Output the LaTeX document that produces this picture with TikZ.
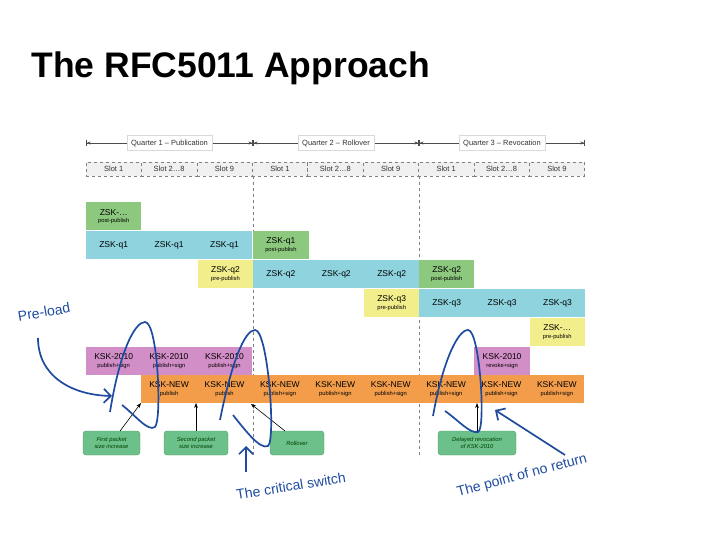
\documentclass[tikz,border=0pt]{standalone}
\usepackage{fontspec}
\setmainfont{Liberation Sans}
\usetikzlibrary{arrows.meta,calc}
\definecolor{ccy}{HTML}{8ED3DE}
\definecolor{cgr}{HTML}{8CC97E}
\definecolor{cye}{HTML}{F3EE8C}
\definecolor{cpu}{HTML}{D28EC6}
\definecolor{cog}{HTML}{F39C4A}
\definecolor{clab}{HTML}{6CC08A}
\definecolor{chand}{HTML}{1E4BA0}
\begin{document}
\begin{tikzpicture}[x=1pt,y=-1pt,
 box/.style={draw=none,minimum height=28pt,inner sep=0pt,align=center,font=\fontsize{8.5}{8.5}\selectfont},
 cy/.style={box,fill=ccy},
 gr/.style={box,fill=cgr},
 ye/.style={box,fill=cye},
 pu/.style={box,fill=cpu},
 og/.style={box,fill=cog},
 lab/.style={draw=clab!80!black,fill=clab,rounded corners=3pt,minimum height=24pt,inner sep=1pt,align=center,font=\itshape\fontsize{5.8}{7}\selectfont,text=black!75!green},
 hand/.style={draw=chand,line width=1.7pt},
 htext/.style={text=chand,font=\fontsize{14}{14}\selectfont}]
\newcommand\sm{\fontsize{5.8}{6}\selectfont}
\useasboundingbox (0,0) rectangle (720,540);
\node[anchor=west,font=\bfseries\fontsize{35.5}{35.5}\selectfont] (title) at (28,68) {The RFC5011 Approach};
% header
\coordinate (q0) at (86,143);\coordinate (q1) at (253,143);\coordinate (q2) at (419,143);\coordinate (q3) at (585,143);
\foreach \a/\b/\t/\n in {q0/q1/Quarter 1 -- Publication/h1,q1/q2/Quarter 2 -- Rollover/h2,q2/q3/Quarter 3 -- Revocation/h3}{
 \draw[black!70,{Bar[width=6pt]Stealth[length=4pt]}-{Stealth[length=4pt]Bar[width=6pt]},line width=0.6pt] (\a) -- (\b);
 \node[fill=white,draw=gray!30,font=\fontsize{7.5}{7.5}\selectfont,inner sep=4pt,text=black!80] (\n) at ($(\a)!0.5!(\b)$) {\t};}
\foreach \i/\t in {0/Slot 1,1/Slot 2\dots8,2/Slot 9,3/Slot 1,4/Slot 2\dots8,5/Slot 9,6/Slot 1,7/Slot 2\dots8,8/Slot 9}{
 \node[draw=gray,dashed,fill=gray!12,minimum width=55.4pt,minimum height=14pt,inner sep=0pt,font=\fontsize{7.5}{7.5}\selectfont,text=black!80] (s\i) at (86+27.7+55.4*\i,169) {\t};}
\draw[gray,dashed,line width=0.5pt] (253,176) -- (253,458) (419,176) -- (419,458);
% rows
\node[gr,minimum width=55.4pt] (z0) at (113.7,216.5) {ZSK-\dots\\[-1pt]{\sm post-publish}};
\node[cy,minimum width=166.2pt] (z1) at (169.1,245) {};
\foreach \i in {0,1,2}{\node[font=\fontsize{8.5}{8.5}\selectfont] (z1t\i) at (113.7+55.4*\i,245) {ZSK-q1};}
\node[gr,minimum width=55.4pt] (z1p) at (280.9,245) {ZSK-q1\\[-1pt]{\sm post-publish}};
\node[ye,minimum width=55.4pt] (z2p) at (225.5,274) {ZSK-q2\\[-1pt]{\sm pre-publish}};
\node[cy,minimum width=166.2pt] (z2) at (336.3,274) {};
\foreach \i in {0,1,2}{\node[font=\fontsize{8.5}{8.5}\selectfont] (z2t\i) at (280.9+55.4*\i,274) {ZSK-q2};}
\node[gr,minimum width=55.4pt] (z2o) at (446.7,274) {ZSK-q2\\[-1pt]{\sm post-publish}};
\node[ye,minimum width=55.4pt] (z3p) at (391.7,303) {ZSK-q3\\[-1pt]{\sm pre-publish}};
\node[cy,minimum width=166.2pt] (z3) at (502.1,303) {};
\foreach \i in {0,1,2}{\node[font=\fontsize{8.5}{8.5}\selectfont] (z3t\i) at (446.7+55.4*\i,303) {ZSK-q3};}
\node[ye,minimum width=55.4pt] (z4p) at (557.3,332) {ZSK-\dots\\[-1pt]{\sm pre-publish}};
\node[pu,minimum width=166.2pt] (k1) at (169.1,361) {};
\foreach \i in {0,1,2}{\node[font=\fontsize{8.5}{8.5}\selectfont,align=center] (k1t\i) at (113.7+55.4*\i,361) {KSK-2010\\[-1pt]{\sm publish+sign}};}
\node[pu,minimum width=55.4pt] (k1r) at (502.1,361) {KSK-2010\\[-1pt]{\sm revoke+sign}};
\node[og,minimum width=443.2pt] (kn) at (362.6,389) {};
\foreach \i/\s in {1/publish,2/publish,3/publish+sign,4/publish+sign,5/publish+sign,6/publish+sign,7/publish+sign,8/publish+sign}{
 \node[font=\fontsize{8.5}{8.5}\selectfont,align=center] (knt\i) at (113.7+55.4*\i,389) {KSK-NEW\\[-1pt]{\sm \s}};}
% labels
\node[lab,minimum width=57pt] (l1) at (111.5,443) {First packet\\size increase};
\node[lab,minimum width=64pt] (l2) at (196,443) {Second packet\\size increase};
\node[lab,minimum width=54pt] (l3) at (297,443) {Rollover};
\node[lab,minimum width=78pt] (l4) at (477,443) {Delayed revocation\\of KSK-2010};
\coordinate (a1) at (141,403);\coordinate (a2) at (196,403);\coordinate (a3) at (251,404);\coordinate (a4) at (477,403);
\draw[-{Stealth[length=5pt]},line width=0.6pt] (120,431) -- (a1);
\draw[-{Stealth[length=5pt]},line width=0.6pt] (l2.north) -- (a2);
\draw[-{Stealth[length=5pt]},line width=0.6pt] (285,431) -- (a3);
\draw[-{Stealth[length=5pt]},line width=0.6pt] (l4.north) -- (a4);
% hand annotations
\node[htext,rotate=10] (tp) at (44,312) {Pre-load};
\node[htext,rotate=9] (tc) at (291,486) {The critical switch};
\node[htext,rotate=15] (tn) at (522,476) {The point of no return};
\draw[hand] (110,412) .. controls (120,350) and (135,322) .. (145,322) .. controls (158,322) and (162,420) .. (155,427) .. controls (148,432) and (135,415) .. (122,405);
\draw[hand] (220,420) .. controls (232,360) and (245,330) .. (255,330) .. controls (268,330) and (276,440) .. (268,446) .. controls (260,450) and (245,430) .. (233,415);
\draw[hand] (433,416) .. controls (443,360) and (458,330) .. (468,330) .. controls (480,330) and (486,430) .. (478,432) .. controls (470,434) and (458,420) .. (445,411);
\coordinate (p1) at (38,338);\coordinate (p2) at (112,396);
\draw[hand,-{Straight Barb[length=7pt]}] (p1) .. controls (38,375) and (70,395) .. (p2);
\coordinate (c1) at (246,472);\coordinate (c2) at (246,446);
\draw[hand,-{Straight Barb[length=7pt]}] (c1) -- (c2);
\coordinate (n1) at (565,455);\coordinate (n2) at (495,410);
\draw[hand,-{Straight Barb[length=7pt]}] (n1) -- (n2);
\end{tikzpicture}
\end{document}
